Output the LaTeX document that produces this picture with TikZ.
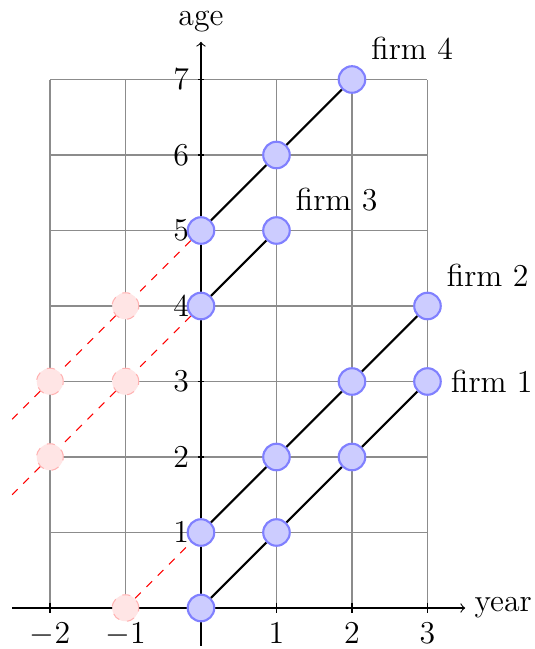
\documentclass[tikz,border=0pt]{standalone}
\begin{document}
\begin{tikzpicture}[font=\large,
  firm/.style={circle,fill=blue!20,draw=blue!50,thick,minimum size=10pt,inner sep=0pt},
  ghost/.style={circle,fill=red!10,draw=red!30,dashed,minimum size=10pt,inner sep=0pt},
  life/.style={thick,black},
  past/.style={red,dashed}]
\useasboundingbox (-2.662,-0.543) rectangle (4.424,8.053);
\draw[gray!90] (-2,0) grid (3,7);
\coordinate (xs) at (-2.5,0);
\coordinate (xe) at (3.5,0);
\coordinate (ys) at (0,-0.5);
\coordinate (ye) at (0,7.5);
\draw[->] (xs) -- (xe) node[right] (xl) {year};
\draw[->] (ys) -- (ye) node[above] (yl) {age};
\foreach \x in {-2,-1,1,2,3} \draw (\x,2pt) -- (\x,-2pt) node[below] (tx\x) {$\x$};
\foreach \y in {1,...,7} \draw (1pt,\y) -- (-1pt,\y) node[left] (ty\y) {$\y$};
% firms
\node[firm] (a0) at (0,0) {};
\node[firm] (a1) at (1,1) {};
\node[firm] (a2) at (2,2) {};
\node[firm,label={right:firm 1}] (a3) at (3,3) {};
\node[firm] (b0) at (0,1) {};
\node[firm] (b1) at (1,2) {};
\node[firm] (b2) at (2,3) {};
\node[firm,label={above right:firm 2}] (b3) at (3,4) {};
\node[firm] (c0) at (0,4) {};
\node[firm,label={above right:firm 3}] (c1) at (1,5) {};
\node[firm] (d0) at (0,5) {};
\node[firm] (d1) at (1,6) {};
\node[firm,label={above right:firm 4}] (d2) at (2,7) {};
% ghosts
\node[ghost] (g0) at (-1,0) {};
\node[ghost] (g1) at (-1,3) {};
\node[ghost] (g2) at (-2,2) {};
\node[ghost] (g3) at (-1,4) {};
\node[ghost] (g4) at (-2,3) {};
\coordinate (e1) at (-2.5,1.5);
\coordinate (e2) at (-2.5,2.5);
% lines
\draw[life] (a0) -- (a1) -- (a2) -- (a3);
\draw[life] (b0) -- (b1) -- (b2) -- (b3);
\draw[life] (c0) -- (c1);
\draw[life] (d0) -- (d1) -- (d2);
\draw[past] (g0) -- (b0);
\draw[past] (c0) -- (g1) -- (g2) -- (e1);
\draw[past] (d0) -- (g3) -- (g4) -- (e2);
\end{tikzpicture}
\end{document}
